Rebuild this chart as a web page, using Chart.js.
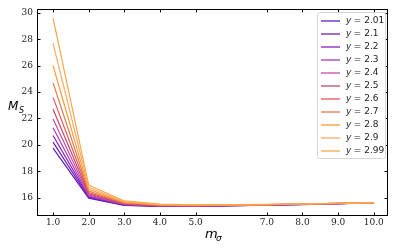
<!DOCTYPE html>
<html>
<head>
<meta charset="utf-8">
<script src="https://cdn.jsdelivr.net/npm/chart.js@4/dist/chart.umd.min.js"></script>
<style>
  html, body { margin: 0; padding: 0; background: #fff; }
  #wrap { width: 399px; height: 249px; }
</style>
</head>
<body>
<div id="wrap"><canvas id="c"></canvas></div>
<script>
// m_sigma values and the curve for each y
const mSigma = [1, 2, 3, 4, 5, 7, 8, 9, 10];
const xTicks = [1, 2, 3, 4, 5, 7, 8, 9, 10];
const yTicks = [16, 18, 20, 22, 24, 26, 28, 30];
const yLabels = ['2.01', '2.1', '2.2', '2.3', '2.4', '2.5', '2.6', '2.7', '2.8', '2.9', '2.99'];
const colors = ['#5b1dc2', '#6c1fac', '#8c1dc4', '#a33fb5', '#cc47aa', '#c2496e',
                '#e3565a', '#e0784e', '#ff9a2e', '#ffaa66', '#ffa54a'];

const ms201 = [19.75, 15.95, 15.40, 15.33, 15.33, 15.42, 15.47, 15.53, 15.60];
const ms21  = [20.20, 16.00, 15.42, 15.34, 15.34, 15.43, 15.48, 15.53, 15.60];
const ms22  = [20.70, 16.05, 15.44, 15.35, 15.35, 15.43, 15.48, 15.54, 15.60];
const ms23  = [21.30, 16.12, 15.46, 15.36, 15.36, 15.44, 15.49, 15.54, 15.61];
const ms24  = [21.95, 16.20, 15.49, 15.38, 15.37, 15.44, 15.49, 15.54, 15.61];
const ms25  = [22.70, 16.28, 15.52, 15.39, 15.38, 15.45, 15.50, 15.55, 15.61];
const ms26  = [23.60, 16.38, 15.55, 15.41, 15.39, 15.45, 15.50, 15.55, 15.61];
const ms27  = [24.70, 16.50, 15.59, 15.43, 15.40, 15.46, 15.51, 15.55, 15.62];
const ms28  = [26.00, 16.62, 15.63, 15.45, 15.42, 15.47, 15.51, 15.56, 15.62];
const ms29  = [27.70, 16.78, 15.68, 15.47, 15.43, 15.47, 15.52, 15.56, 15.62];
const ms299 = [29.60, 16.95, 15.74, 15.50, 15.45, 15.48, 15.52, 15.56, 15.62];
const series = [ms201, ms21, ms22, ms23, ms24, ms25, ms26, ms27, ms28, ms29, ms299];

const tickFont = '9px "DejaVu Serif"';

// inward ticks on all four sides, axis titles and the legend box
const decor = {
  id: 'decor',
  afterDraw(chart) {
    const ctx = chart.ctx;
    const a = chart.chartArea;
    const xs = chart.scales.x, ys = chart.scales.y;
    ctx.save();
    ctx.strokeStyle = '#000';
    ctx.lineWidth = 1;
    ctx.strokeRect(a.left + 0.5, a.top + 0.5, a.right - a.left - 1, a.bottom - a.top - 1);
    ctx.beginPath();
    xTicks.forEach(v => {
      const px = Math.round(xs.getPixelForValue(v)) + 0.5;
      ctx.moveTo(px, a.bottom); ctx.lineTo(px, a.bottom - 3.5);
      ctx.moveTo(px, a.top); ctx.lineTo(px, a.top + 3.5);
    });
    yTicks.forEach(v => {
      const py = Math.round(ys.getPixelForValue(v)) + 0.5;
      ctx.moveTo(a.left, py); ctx.lineTo(a.left + 3.5, py);
      ctx.moveTo(a.right, py); ctx.lineTo(a.right - 3.5, py);
    });
    ctx.stroke();

    // tick labels
    ctx.fillStyle = '#222';
    ctx.font = tickFont;
    ctx.textAlign = 'center';
    ctx.textBaseline = 'middle';
    xTicks.forEach(v => ctx.fillText(v.toFixed(1), xs.getPixelForValue(v), a.bottom + 7));
    ctx.textAlign = 'right';
    yTicks.forEach(v => ctx.fillText(String(v), a.left - 4, ys.getPixelForValue(v)));

    // axis titles
    ctx.fillStyle = '#000';
    ctx.textAlign = 'left';
    ctx.textBaseline = 'alphabetic';
    ctx.font = 'italic 12px "DejaVu Sans"';
    ctx.fillText('M', 8, 110);
    ctx.font = 'italic 8px "DejaVu Sans"';
    ctx.fillText('S', 19, 113);
    ctx.font = 'italic 13px "DejaVu Sans"';
    ctx.fillText('m', 205, 238);
    ctx.font = 'italic 9px "DejaVu Sans"';
    ctx.fillText('σ', 216, 241);

    // legend
    const lx = 317, ly = 12, lw = 68, lh = 146;
    ctx.fillStyle = 'rgba(255,255,255,0.85)';
    ctx.strokeStyle = '#d6d6d6';
    ctx.beginPath();
    ctx.roundRect(lx + 0.5, ly + 0.5, lw, lh, 2);
    ctx.fill();
    ctx.stroke();
    ctx.textBaseline = 'middle';
    yLabels.forEach((lab, i) => {
      const yy = ly + 9 + i * 13;
      ctx.strokeStyle = colors[i];
      ctx.lineWidth = 1.3;
      ctx.beginPath();
      ctx.moveTo(lx + 4, yy); ctx.lineTo(lx + 23, yy);
      ctx.stroke();
      ctx.fillStyle = '#222';
      ctx.font = 'italic 9px "DejaVu Sans"';
      ctx.fillText('y', lx + 29, yy);
      ctx.font = '9px "DejaVu Sans"';
      ctx.fillText(' = ' + lab, lx + 34, yy);
    });
    ctx.restore();
  }
};

const datasets = series.map((vals, i) => ({
  label: 'y = ' + yLabels[i],
  data: mSigma.map((m, j) => ({ x: m, y: vals[j] })),
  borderColor: colors[i],
  borderWidth: 1.2,
  pointRadius: 0,
  tension: 0,
  fill: false,
  order: series.length - i
}));

new Chart(document.getElementById('c'), {
  type: 'line',
  data: { datasets },
  options: {
    responsive: true,
    maintainAspectRatio: false,
    animation: false,
    layout: { padding: { top: 9, right: 11, left: 0, bottom: 0 } },
    plugins: { legend: { display: false }, tooltip: { enabled: false } },
    scales: {
      x: {
        type: 'linear',
        min: 0.55, max: 10.4,
        grid: { display: false, drawTicks: false },
        border: { display: false },
        ticks: { display: false },
        afterFit: s => { s.height = 33; }
      },
      y: {
        min: 14.6, max: 30.3,
        grid: { display: false, drawTicks: false },
        border: { display: false },
        ticks: { display: false },
        afterFit: s => { s.width = 37; }
      }
    }
  },
  plugins: [decor]
});
</script>
</body>
</html>
